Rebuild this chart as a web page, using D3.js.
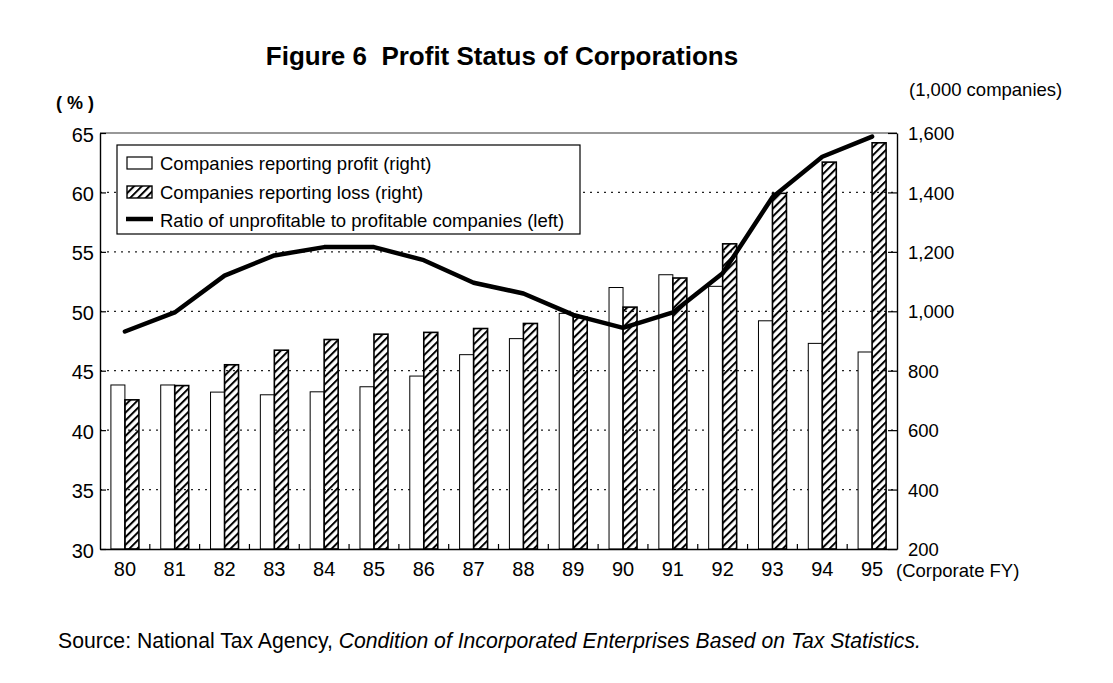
<!DOCTYPE html>
<html>
<head>
<meta charset="utf-8">
<script src="https://cdn.jsdelivr.net/npm/d3@7"></script>
<style>
  body { margin: 0; background: #fff; }
  svg { font-family: "Liberation Sans", Arial, Helvetica, sans-serif; }
</style>
</head>
<body>
<div id="chart"></div>
<script>
// data
var years = ["80", "81", "82", "83", "84", "85", "86", "87", "88", "89", "90", "91", "92", "93", "94", "95"]
var profitCos = [752, 752, 728, 719, 729, 746, 782, 854, 908, 993, 1080, 1123, 1084, 968, 892, 863]
var lossCos = [702, 750, 820, 869, 905, 923, 929, 942, 959, 980, 1014, 1112, 1227, 1397, 1502, 1567]
var lossRatio = [48.3, 49.9, 53.0, 54.7, 55.4, 55.4, 54.3, 52.4, 51.5, 49.7, 48.6, 49.9, 53.2, 59.6, 63.0, 64.7]
var leftTicks = [30, 35, 40, 45, 50, 55, 60, 65]
var rightTicks = [200, 400, 600, 800, 1000, 1200, 1400, 1600]

var W = 1113, H = 683
var plot = { left: 100, right: 897, top: 133, bottom: 549 }
var barW = 14

var svg = d3.select("#chart").append("svg")
    .attr("width", W)
    .attr("height", H)

// hatch for loss bars
var defs = svg.append("defs")
defs.append("pattern")
    .attr("id", "hatch")
    .attr("patternUnits", "userSpaceOnUse")
    .attr("width", 5.5)
    .attr("height", 5.5)
    .attr("patternTransform", "rotate(45)")
    .append("rect")
    .attr("x", 0).attr("y", 0)
    .attr("width", 2).attr("height", 5.5)
    .attr("fill", "#000")

var x = d3.scaleBand()
    .domain(years)
    .range([plot.left, plot.right])

var yL = d3.scaleLinear()
    .domain([30, 65])
    .range([plot.bottom, plot.top])

var yR = d3.scaleLinear()
    .domain([200, 1600])
    .range([plot.bottom, plot.top])

// title
svg.append("text")
    .attr("x", 502).attr("y", 65)
    .attr("text-anchor", "middle")
    .attr("font-size", 26)
    .attr("font-weight", "bold")
    .attr("xml:space", "preserve")
    .text("Figure 6  Profit Status of Corporations")

svg.append("text")
    .attr("x", 56).attr("y", 109)
    .attr("font-size", 18)
    .attr("font-weight", "bold")
    .attr("letter-spacing", 5)
    .text("(%)")

svg.append("text")
    .attr("x", 909).attr("y", 96)
    .attr("font-size", 18.5)
    .text("(1,000 companies)")

// dotted grid
svg.append("g")
    .selectAll("line")
    .data(leftTicks.filter(function (t) { return t > 30 && t < 65 }))
    .enter().append("line")
    .attr("x1", plot.left).attr("x2", plot.right)
    .attr("y1", function (d) { return yL(d) })
    .attr("y2", function (d) { return yL(d) })
    .attr("stroke", "#222")
    .attr("stroke-width", 1.2)
    .attr("stroke-dasharray", "2,5")

// frame top
svg.append("line")
    .attr("x1", plot.left).attr("x2", plot.right)
    .attr("y1", plot.top).attr("y2", plot.top)
    .attr("stroke", "#333").attr("stroke-width", 1.2)

// bars
var groups = svg.append("g")
    .selectAll("g")
    .data(years)
    .enter().append("g")

groups.append("rect")
    .attr("x", function (d) { return x(d) + x.bandwidth() / 2 - barW })
    .attr("y", function (d, i) { return yR(profitCos[i]) })
    .attr("width", barW)
    .attr("height", function (d, i) { return plot.bottom - yR(profitCos[i]) })
    .attr("fill", "#fff")
    .attr("stroke", "#000")
    .attr("stroke-width", 1)

groups.append("rect")
    .attr("x", function (d) { return x(d) + x.bandwidth() / 2 })
    .attr("y", function (d, i) { return yR(lossCos[i]) })
    .attr("width", barW)
    .attr("height", function (d, i) { return plot.bottom - yR(lossCos[i]) })
    .attr("fill", "url(#hatch)")
    .attr("stroke", "#000")
    .attr("stroke-width", 1.6)

// ratio line
var line = d3.line()
    .x(function (d, i) { return x(years[i]) + x.bandwidth() / 2 })
    .y(function (d) { return yL(d) })

svg.append("path")
    .datum(lossRatio)
    .attr("d", line)
    .attr("fill", "none")
    .attr("stroke", "#000")
    .attr("stroke-width", 4.5)
    .attr("stroke-linejoin", "round")
    .attr("stroke-linecap", "round")

// axes
var leftAxis = svg.append("g")
    .attr("transform", "translate(" + plot.left + ",0)")
    .call(d3.axisLeft(yL).tickValues(leftTicks).tickSize(-6).tickPadding(6).tickSizeOuter(0))
var rightAxis = svg.append("g")
    .attr("transform", "translate(" + plot.right + ",0)")
    .call(d3.axisRight(yR).tickValues(rightTicks).tickFormat(d3.format(",")).tickSize(-9).tickPadding(11).tickSizeOuter(0))
var bottomAxis = svg.append("g")
    .attr("transform", "translate(0," + plot.bottom + ")")
    .call(d3.axisBottom(x).tickSize(0).tickPadding(13).tickSizeOuter(0))

;[leftAxis, rightAxis, bottomAxis].forEach(function (g) {
    g.attr("font-family", null)
    g.select(".domain").attr("stroke", "#000").attr("stroke-width", 1.4)
    g.selectAll(".tick line").attr("stroke", "#000").attr("stroke-width", 1.2)
    g.selectAll("text").attr("fill", "#000")
})
leftAxis.attr("font-size", 20)
bottomAxis.attr("font-size", 20)
rightAxis.attr("font-size", 18.5)
leftAxis.selectAll(".tick text").attr("dy", "0.4em")
rightAxis.selectAll(".tick text").attr("dy", "0.36em")

// short ticks between years, pointing up
svg.append("g")
    .selectAll("line")
    .data(years.slice(1))
    .enter().append("line")
    .attr("x1", function (d) { return x(d) })
    .attr("x2", function (d) { return x(d) })
    .attr("y1", plot.bottom)
    .attr("y2", plot.bottom - 5)
    .attr("stroke", "#000")
    .attr("stroke-width", 1.2)

svg.append("text")
    .attr("x", 896).attr("y", 577)
    .attr("font-size", 18.5)
    .text("(Corporate FY)")

// legend
var legend = svg.append("g")
legend.append("rect")
    .attr("x", 117).attr("y", 145)
    .attr("width", 463).attr("height", 89)
    .attr("fill", "#fff")
    .attr("stroke", "#000")
    .attr("stroke-width", 1.2)

var legendLabels = [
    "Companies reporting profit (right)",
    "Companies reporting loss (right)",
    "Ratio of unprofitable to profitable companies (left)"
]
var legendY = [163, 192, 220]

legend.append("rect")
    .attr("x", 127).attr("y", legendY[0] - 6)
    .attr("width", 25).attr("height", 12)
    .attr("fill", "#fff").attr("stroke", "#000").attr("stroke-width", 1.2)
legend.append("rect")
    .attr("x", 127).attr("y", legendY[1] - 6)
    .attr("width", 25).attr("height", 12)
    .attr("fill", "url(#hatch)").attr("stroke", "#000").attr("stroke-width", 1.4)
legend.append("line")
    .attr("x1", 126).attr("x2", 153)
    .attr("y1", legendY[2] - 1).attr("y2", legendY[2] - 1)
    .attr("stroke", "#000").attr("stroke-width", 4.5)

legend.selectAll("text.lbl")
    .data(legendLabels)
    .enter().append("text")
    .attr("class", "lbl")
    .attr("x", 160)
    .attr("y", function (d, i) { return legendY[i] + 6.5 })
    .attr("font-size", 18.5)
    .text(function (d) { return d })

// source note
var src = svg.append("text")
    .attr("x", 58).attr("y", 648)
    .attr("font-size", 21.2)
src.append("tspan").text("Source: National Tax Agency, ")
src.append("tspan").attr("font-style", "italic")
    .text("Condition of Incorporated Enterprises Based on Tax Statistics.")
</script>
</body>
</html>
